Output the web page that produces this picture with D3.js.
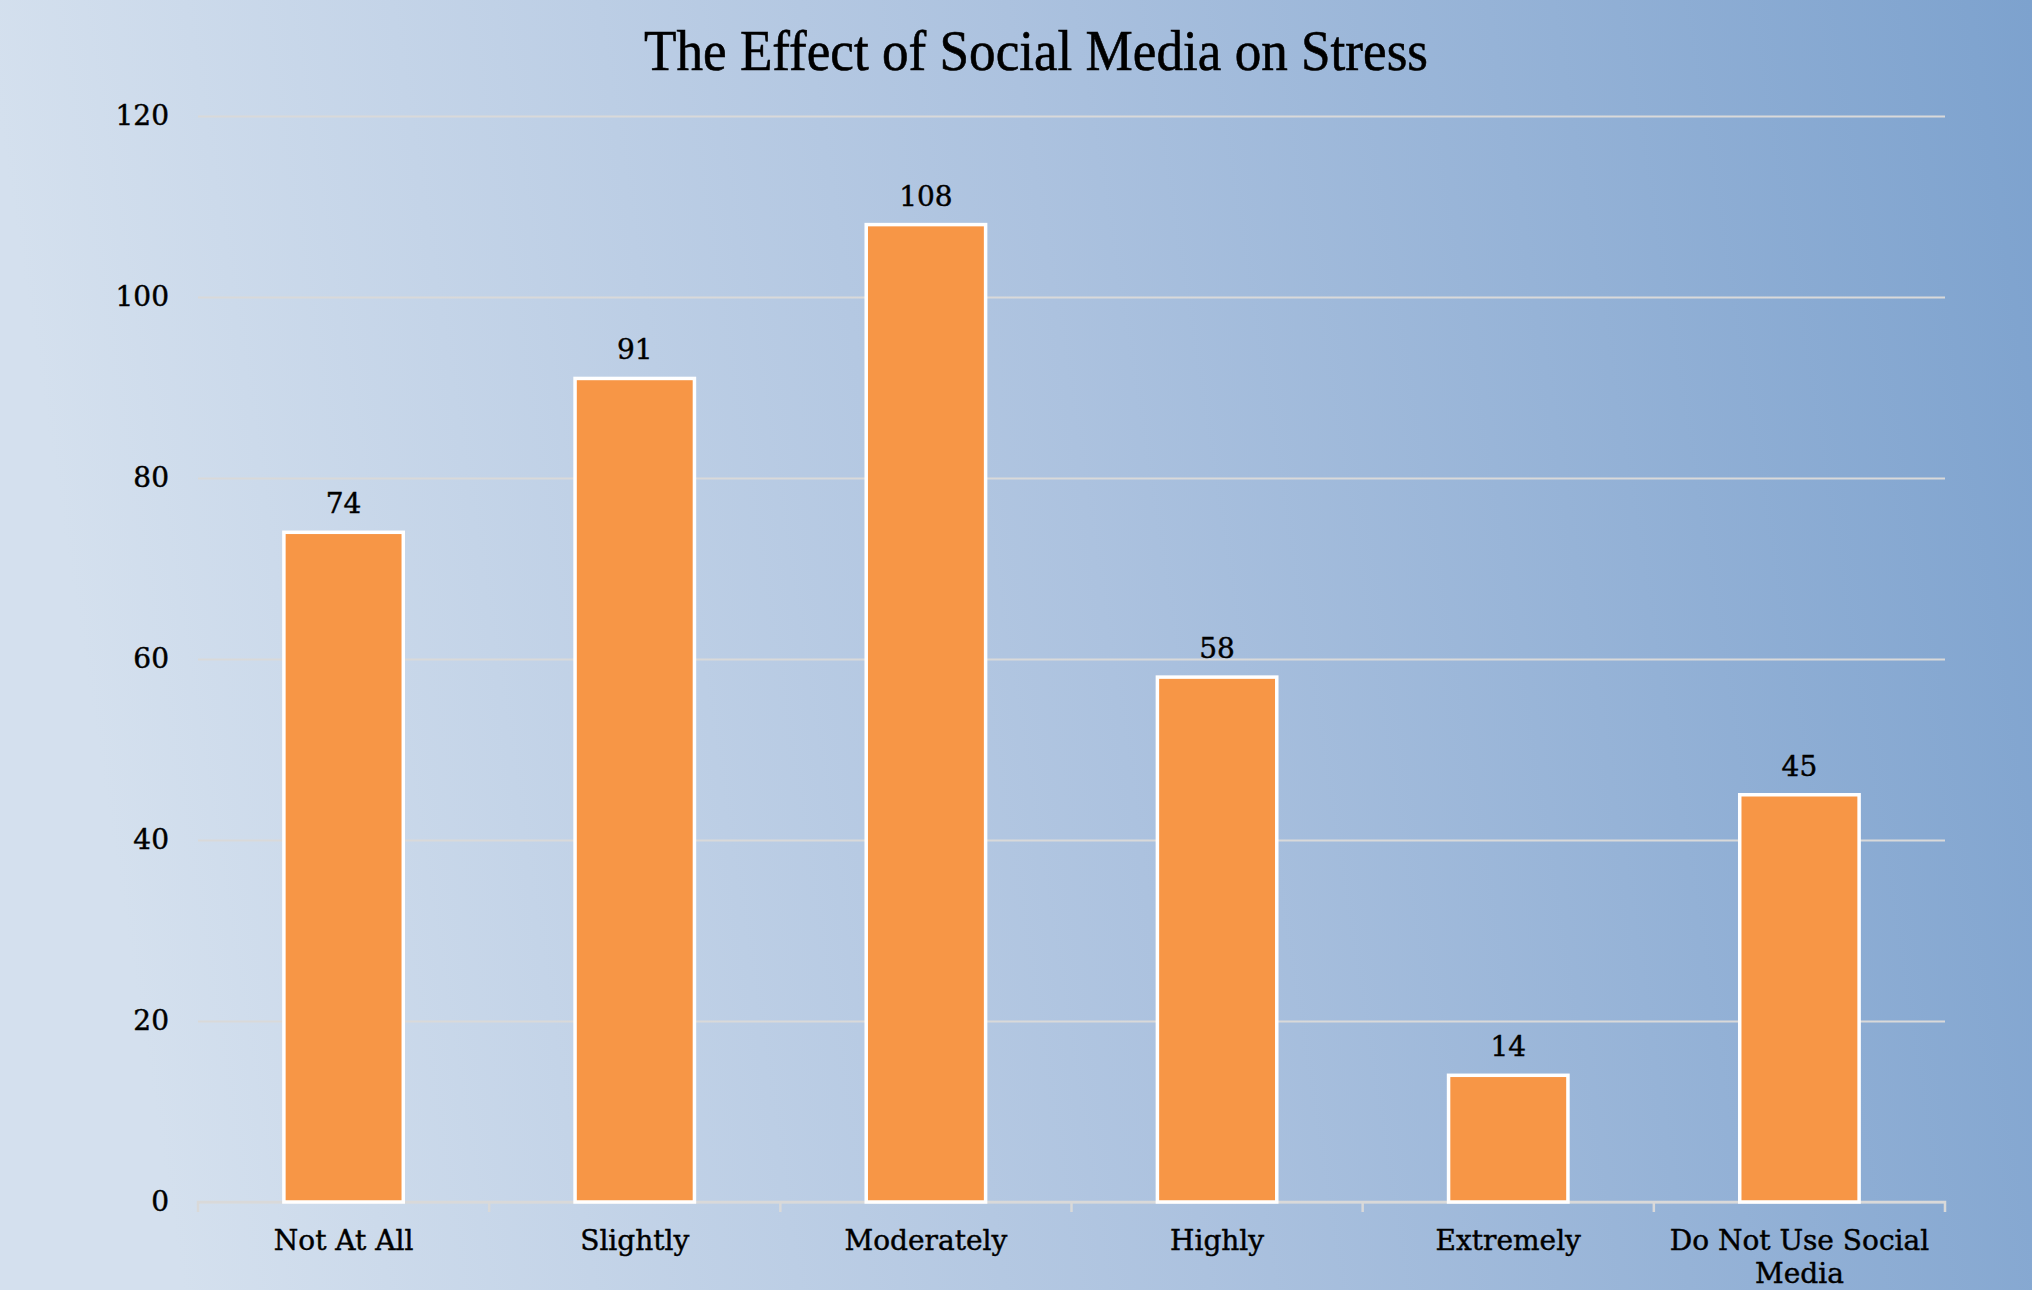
<!DOCTYPE html>
<html>
<head>
<meta charset="utf-8">
<script src="https://cdnjs.cloudflare.com/ajax/libs/d3/7.8.5/d3.min.js"></script>
<style>
  html, body { margin: 0; padding: 0; }
  svg { display: block; }
</style>
</head>
<body>
<svg id="chart" width="2032" height="1290"></svg>
<script>
// Survey data: how much social media affects stress
const categories = ["Not At All", "Slightly", "Moderately", "Highly", "Extremely", "Do Not Use Social Media"];
const counts = [74, 91, 108, 58, 14, 45];
const yTicks = [0, 20, 40, 60, 80, 100, 120];
const chartTitle = "The Effect of Social Media on Stress";

const W = 2032, H = 1290;
const margin = { left: 198, right: 87, top: 116, bottom: 88 };
const svg = d3.select("#chart");

// background gradient
const defs = svg.append("defs");
const grad = defs.append("linearGradient")
  .attr("id", "bg").attr("x1", "0%").attr("y1", "10%").attr("x2", "100%").attr("y2", "0%");
grad.append("stop").attr("offset", "0%").attr("stop-color", "#d4e0ee");
grad.append("stop").attr("offset", "50%").attr("stop-color", "#acc2df");
grad.append("stop").attr("offset", "100%").attr("stop-color", "#7da2ce");
svg.append("rect").attr("width", W).attr("height", H).attr("fill", "url(#bg)");

const x = d3.scaleBand().domain(categories).range([margin.left, W - margin.right]).padding(0);
const y = d3.scaleLinear().domain([0, 120]).range([H - margin.bottom, margin.top]);

const serif = "'DejaVu Serif', serif";
const textStroke = sel => sel.attr("stroke", "#000").attr("stroke-width", 0.45);

// gridlines + y labels
const yAxis = d3.axisLeft(y).tickValues(yTicks).tickSize(-(W - margin.left - margin.right)).tickPadding(29);
const gy = svg.append("g").attr("transform", `translate(${margin.left},0)`).call(yAxis);
gy.select(".domain").remove();
gy.selectAll(".tick line").attr("stroke", "#d9d9d9").attr("stroke-width", 2);
gy.selectAll(".tick text")
  .attr("font-family", serif).attr("font-size", 28).attr("fill", "#000").call(textStroke);

// category axis
const xAxis = d3.axisBottom(x).tickSize(0).tickPadding(28);
const gx = svg.append("g").attr("transform", `translate(0,${y(0)})`).call(xAxis);
gx.select(".domain").attr("stroke", "#d9d9d9").attr("stroke-width", 2.5).attr("d", `M${margin.left},10V0H${W - margin.right}V10`);
// tick marks at category boundaries
gx.selectAll(".boundary").data(categories.slice(1)).enter().append("line")
  .attr("x1", d => x(d)).attr("x2", d => x(d)).attr("y1", 0).attr("y2", 10)
  .attr("stroke", "#d9d9d9").attr("stroke-width", 2.5);
gx.selectAll(".tick text")
  .attr("font-family", serif).attr("font-size", 28).attr("fill", "#000")
  .call(textStroke)
  .call(wrap, 280);

function wrap(sel, width) {
  sel.each(function() {
    const t = d3.select(this);
    const words = t.text().split(/\s+/);
    const yy = t.attr("y"), dy = parseFloat(t.attr("dy"));
    t.text(null);
    let line = [], lineNo = 0;
    let ts = t.append("tspan").attr("x", 0).attr("y", yy).attr("dy", dy + "em");
    for (const w of words) {
      line.push(w);
      ts.text(line.join(" "));
      if (ts.node().getComputedTextLength() > width && line.length > 1) {
        line.pop();
        ts.text(line.join(" "));
        line = [w];
        lineNo++;
        ts = t.append("tspan").attr("x", 0).attr("y", yy).attr("dy", (dy + lineNo * 1.2) + "em").text(w);
      }
    }
  });
}

// bars
const barW = x.bandwidth() * 0.41;
svg.append("g").selectAll("rect").data(categories).enter().append("rect")
  .attr("x", (d) => x(d) + (x.bandwidth() - barW) / 2)
  .attr("y", (d, i) => y(counts[i]))
  .attr("width", barW)
  .attr("height", (d, i) => y(0) - y(counts[i]))
  .attr("fill", "#f79646")
  .attr("stroke", "#ffffff").attr("stroke-width", 3.5);

// value labels
svg.append("g").selectAll("text").data(categories).enter().append("text")
  .attr("x", d => x(d) + x.bandwidth() / 2)
  .attr("y", (d, i) => y(counts[i]) - 19)
  .attr("text-anchor", "middle")
  .attr("font-family", serif).attr("font-size", 28).attr("fill", "#000")
  .call(textStroke)
  .text((d, i) => counts[i]);

// title
svg.append("text")
  .attr("x", 1036).attr("y", 70)
  .attr("text-anchor", "middle")
  .attr("font-family", "'Liberation Serif', serif").attr("font-size", 58).attr("fill", "#000")
  .attr("stroke", "#000").attr("stroke-width", 0.6)
  .attr("textLength", 784).attr("lengthAdjust", "spacingAndGlyphs")
  .text(chartTitle);
</script>
</body>
</html>
